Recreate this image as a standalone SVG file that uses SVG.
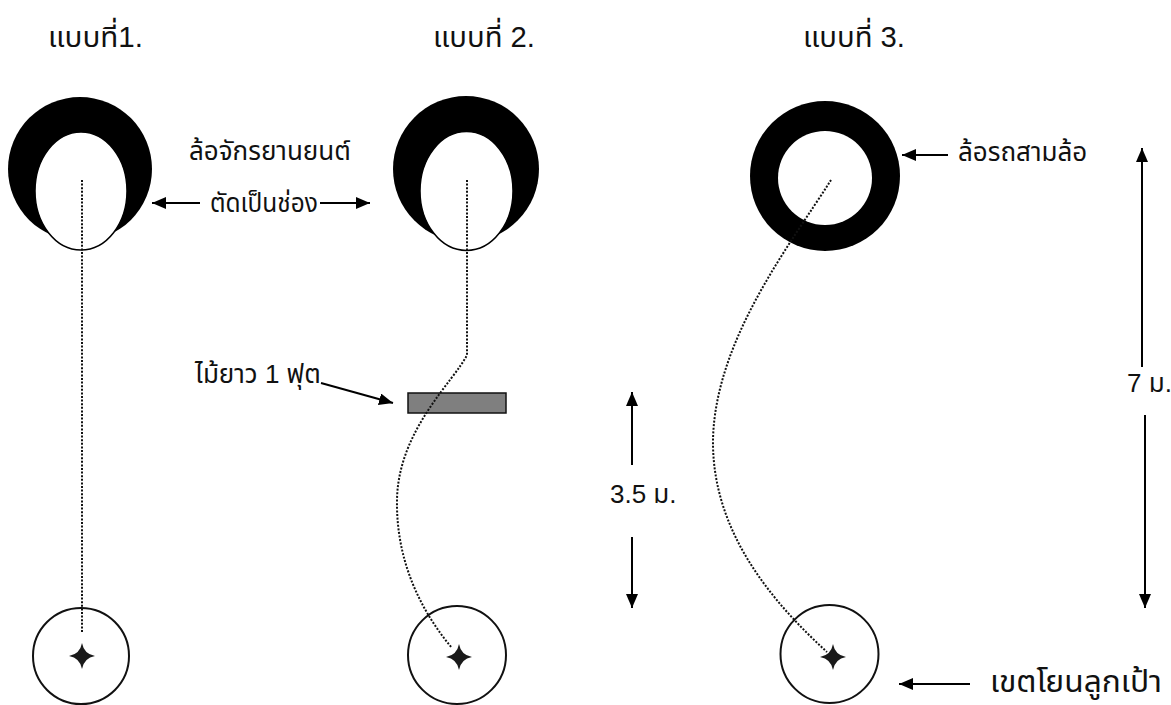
<svg xmlns="http://www.w3.org/2000/svg" width="1171" height="705" viewBox="0 0 1171 705">
  <style>
    text { font-family: "Liberation Sans", "Noto Sans Thai", "Noto Sans", "DejaVu Sans", sans-serif; fill: #111; }
    .title { font-size: 29px; }
    .lbl { font-size: 26px; }
    .big { font-size: 31px; }
    .arrow { stroke: #000; stroke-width: 2; fill: none; marker-end: url(#head); }
    .path { stroke: #111; stroke-width: 2; fill: none; stroke-dasharray: 2 1.6; }
    .rim { fill: #000; }
    .hole { fill: #fff; stroke: #000; stroke-width: 1.5; }
    .zone { fill: #fff; stroke: #111; stroke-width: 2; }
    .star { fill: #1a1a1a; }
  </style>
  <defs>
    <marker id="head" viewBox="0 0 14 12" markerUnits="userSpaceOnUse" markerWidth="14" markerHeight="12" refX="14" refY="6" orient="auto">
      <path d="M0,0 L14,6 L0,12 z" fill="#000"/>
    </marker>
    <path id="star4" d="M0,-13 Q2,-2 13,0 Q2,2 0,13 Q-2,2 -13,0 Q-2,-2 0,-13 Z"/>
  </defs>
  <rect width="1171" height="705" fill="#fff"/>

  <!-- column headings -->
  <g id="headings">
    <text class="title" x="48" y="47" textLength="95" lengthAdjust="spacingAndGlyphs">แบบที่1.</text>
    <text class="title" x="433" y="47" textLength="102" lengthAdjust="spacingAndGlyphs">แบบที่ 2.</text>
    <text class="title" x="803" y="47" textLength="102" lengthAdjust="spacingAndGlyphs">แบบที่ 3.</text>
  </g>

  <!-- motorcycle tyre, cut open (layout 1) -->
  <g id="wheel-1">
    <circle class="rim" cx="80" cy="169" r="72"/>
    <ellipse class="hole" cx="81" cy="191" rx="46" ry="59"/>
  </g>

  <!-- motorcycle tyre, cut open (layout 2) -->
  <g id="wheel-2">
    <circle class="rim" cx="466" cy="169" r="73"/>
    <ellipse class="hole" cx="466.5" cy="191" rx="46.5" ry="59.5"/>
  </g>

  <!-- tricycle tyre (layout 3) -->
  <g id="wheel-3">
    <circle class="rim" cx="825" cy="176" r="75"/>
    <circle cx="825" cy="178" r="47" fill="#fff"/>
  </g>

  <!-- one-foot wooden bar -->
  <g id="bar">
    <rect x="408" y="393" width="98" height="20" fill="#7f7f7f" stroke="#111" stroke-width="1.5"/>
  </g>

  <!-- target zones -->
  <g id="target-1">
    <circle class="zone" cx="81" cy="656" r="48"/>
    <use href="#star4" class="star" x="82" y="656"/>
  </g>
  <g id="target-2">
    <circle class="zone" cx="457" cy="655" r="49"/>
    <use href="#star4" class="star" x="459" y="657"/>
  </g>
  <g id="target-3">
    <circle class="zone" cx="829.5" cy="654" r="49"/>
    <use href="#star4" class="star" x="833" y="657"/>
  </g>

  <!-- labels -->
  <g id="labels">
    <text class="lbl" x="189" y="160">ล้อจักรยานยนต์</text>
    <text class="lbl" x="210" y="212" textLength="108" lengthAdjust="spacingAndGlyphs">ตัดเป็นช่อง</text>
    <text class="lbl" x="195" y="383">ไม้ยาว 1 ฟุต</text>
    <text class="lbl" x="610" y="503">3.5 ม.</text>
    <text class="lbl" x="958" y="161">ล้อรถสามล้อ</text>
    <text class="lbl" x="1127" y="392">7 ม.</text>
    <text class="big" x="990" y="692" textLength="172" lengthAdjust="spacingAndGlyphs">เขตโยนลูกเป้า</text>
  </g>

  <!-- throw paths and pointer arrows -->
  <g id="connectors">
    <path class="path" d="M82,180 L82,633"/>
    <path class="path" d="M467,180 L467,355 C455,380 398,430 397,500 C396,560 420,610 452,648"/>
    <path class="path" d="M831,180 C790,245 715,340 713,440 C712,530 770,600 827,652"/>

    <line class="arrow" x1="200" y1="203" x2="152" y2="203"/>
    <line class="arrow" x1="320" y1="203" x2="370" y2="203"/>
    <line class="arrow" x1="321" y1="383" x2="393" y2="403"/>
    <line class="arrow" x1="948" y1="155" x2="902" y2="155"/>
    <line class="arrow" x1="970" y1="684" x2="899" y2="684"/>

    <line class="arrow" x1="632" y1="465" x2="632" y2="392"/>
    <line class="arrow" x1="632" y1="537" x2="632" y2="608"/>
    <line class="arrow" x1="1142" y1="367" x2="1142" y2="148"/>
    <line class="arrow" x1="1145" y1="415" x2="1145" y2="608"/>
  </g>
</svg>
